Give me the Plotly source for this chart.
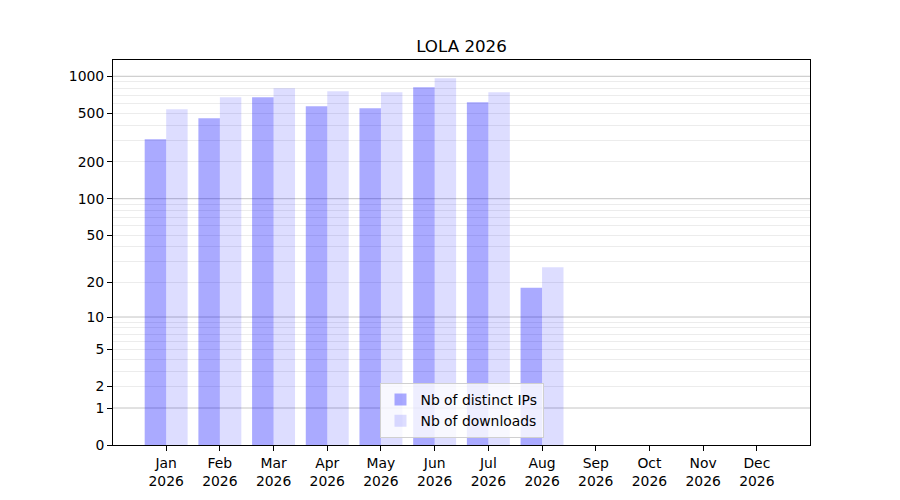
import plotly.graph_objects as go

months = ["Jan", "Feb", "Mar", "Apr", "May", "Jun", "Jul", "Aug", "Sep", "Oct", "Nov", "Dec"]
year = "2026"
distinct_ips = [306, 454, 674, 570, 549, 814, 614, 18, 0, 0, 0, 0]
downloads = [538, 674, 798, 754, 741, 963, 741, 27, 0, 0, 0, 0]
y_ticks = [0, 1, 2, 5, 10, 20, 50, 100, 200, 500, 1000]
major_grid = [1, 10, 100, 1000]
minor_grid = [k * 10 ** d for d in range(3) for k in range(2, 10)]

labels = [f"{m}<br>{year}" for m in months]
FONT = "DejaVu Sans"

fig = go.Figure()
fig.add_trace(go.Bar(x=labels, y=distinct_ips, base=1, name="Nb of distinct IPs",
                     marker=dict(color="rgba(0,0,255,0.333)", line=dict(width=0))))
fig.add_trace(go.Bar(x=labels, y=downloads, base=1, name="Nb of downloads",
                     marker=dict(color="rgba(0,0,255,0.133)", line=dict(width=0))))

for v in major_grid:
    fig.add_shape(type="line", xref="paper", x0=0, x1=1, yref="y", y0=1 + v, y1=1 + v,
                  line=dict(color="#c4c4c4", width=1), layer="below")

W, H = 892, 492
fig.update_layout(
    width=W, height=H,
    paper_bgcolor="white", plot_bgcolor="white",
    margin=dict(l=105, r=90, t=52, b=55),
    title=dict(text="LOLA 2026", x=0.5, xref="paper", xanchor="center",
               y=1 - 38 / H, yanchor="middle",
               font=dict(family=FONT, size=16.7, color="black")),
    font=dict(family=FONT, size=13.9, color="black"),
    barmode="group", bargap=0.2, bargroupgap=0,
    showlegend=True,
    legend=dict(x=0.5, xanchor="center", y=0.018, yanchor="bottom",
                bgcolor="rgba(255,255,255,0.8)", bordercolor="#d0d0d0", borderwidth=1,
                font=dict(family=FONT, size=13.9), tracegroupgap=0,
                itemwidth=30),
    xaxis=dict(range=[-0.99, 11.99], showline=True, mirror=True, linecolor="black",
               linewidth=1, ticks="outside", ticklen=5, tickcolor="black",
               showgrid=False, zeroline=False, tickfont=dict(family=FONT, size=13.9)),
    yaxis=dict(type="log", range=[0, 3.133], showline=True, mirror=True,
               linecolor="black", linewidth=1, ticks="outside", ticklen=5,
               tickcolor="black", showgrid=False, zeroline=False,
               tickmode="array", tickvals=[1 + t for t in y_ticks],
               ticktext=[str(t) for t in y_ticks],
               tickfont=dict(family=FONT, size=13.9),
               minor=dict(tickmode="array", tickvals=[1 + v for v in minor_grid],
                          showgrid=True, gridcolor="#ececec", gridwidth=1, ticks="")),
)

fig.write_html("out.html")
